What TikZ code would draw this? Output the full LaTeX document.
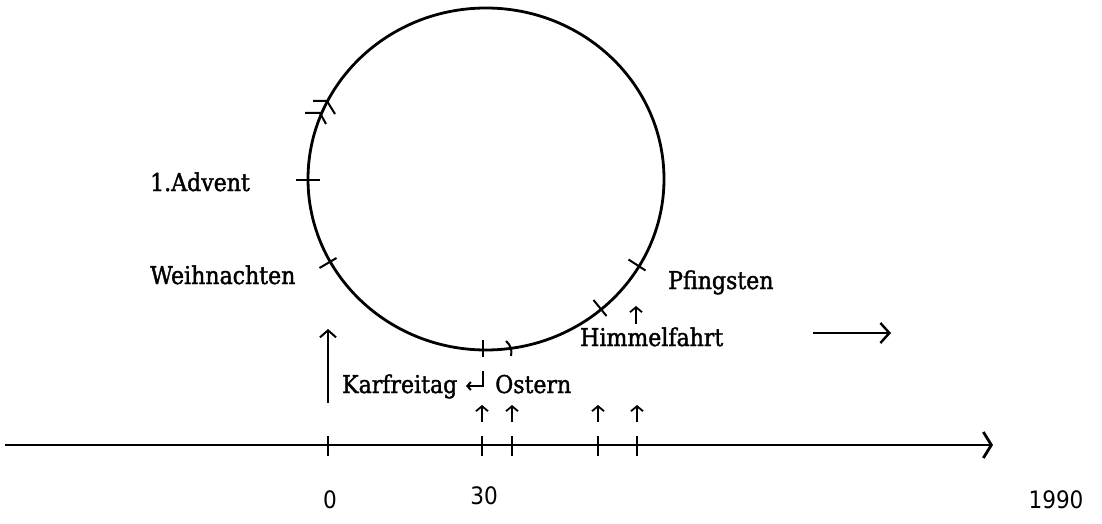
\documentclass[tikz,border=0pt]{standalone}
\usepackage{fontspec}
\setmainfont[FakeBold=1.5,FakeStretch=0.9]{DejaVu Serif}
\newfontfamily\numfont[FakeStretch=0.9]{DejaVu Sans}
\usetikzlibrary{arrows.meta}
\begin{document}
\begin{tikzpicture}[x=1pt,y=-1pt,
 lbl/.style={font=\fontsize{24.5}{28}\selectfont, inner sep=0pt, anchor=base west},
 num/.style={font=\numfont\fontsize{24}{28}\selectfont, inner sep=0pt, anchor=base},
 ln/.style={line width=2.8pt},
 tk/.style={line width=2pt},
 up/.style={line width=1.8pt, -{Straight Barb[length=5pt,width=12pt]}},
]
\useasboundingbox (0,0) rectangle (1102,524);
% year circle
\draw[ln] (486,179) ellipse [x radius=178pt, y radius=171pt];
% marks on the circle
\draw[tk] (296,180) -- (320,180);
\draw[tk] (313,101) -- (327,101) -- (335,114);
\draw[tk] (305,113) -- (320,113) -- (326,124);
\draw[tk] (319.5,268) -- (336.5,258);
\draw[tk] (483,340) -- (483,357);
\draw[tk] (506,341) to[bend left=30] (511,356);
\draw[tk] (593.5,300) -- (606.5,316);
\draw[tk] (628.5,259.5) -- (645.5,270.5);
% labels
\node[lbl] (adv) at (150,191) {1.Advent};
\node[lbl] (wei) at (150,284) {Weihnachten};
\node[lbl] (pfi) at (668,289) {Pfingsten};
\node[lbl] (him) at (580,346) {Himmelfahrt};
\node[lbl] (kar) at (342,393) {Karfreitag};
\node[lbl] (ost) at (495,393) {Ostern};
% return sign between Karfreitag and Ostern
\coordinate (rt) at (483,371); \coordinate (rm) at (483,386); \coordinate (rl) at (466,386);
\draw[line width=2pt, -{Straight Barb[length=3.5pt,width=8pt]}] (rt) -- (rm) -- (rl);
% arrows
\coordinate (a0s) at (328,403); \coordinate (a0e) at (328,329);
\draw[line width=2pt, -{Straight Barb[length=7pt,width=16pt]}] (a0s) -- (a0e);
\coordinate (hs) at (636,324); \coordinate (he) at (636,306);
\draw[up] (hs) -- (he);
\coordinate (rs) at (813,333); \coordinate (re) at (891,333);
\draw[line width=2.4pt, -{Straight Barb[length=9pt,width=20pt]}] (rs) -- (re);
\foreach \x [count=\i] in {482,512,598,637}{
  \coordinate (us\i) at (\x,422); \coordinate (ue\i) at (\x,405);
  \draw[up] (us\i) -- (ue\i);
}
% time axis
\coordinate (axL) at (5,445); \coordinate (axR) at (993,445);
\draw[ln, -{Straight Barb[length=8pt,width=26pt]}] (axL) -- (axR);
\foreach \x in {328,482,512,598,637}{
  \draw[tk] (\x,436) -- (\x,456);
}
\node[num] (n0) at (330,508) {0};
\node[num] (n30) at (484,504) {30};
\node[num] (n1990) at (1056,508) {1990};
\end{tikzpicture}
\end{document}
